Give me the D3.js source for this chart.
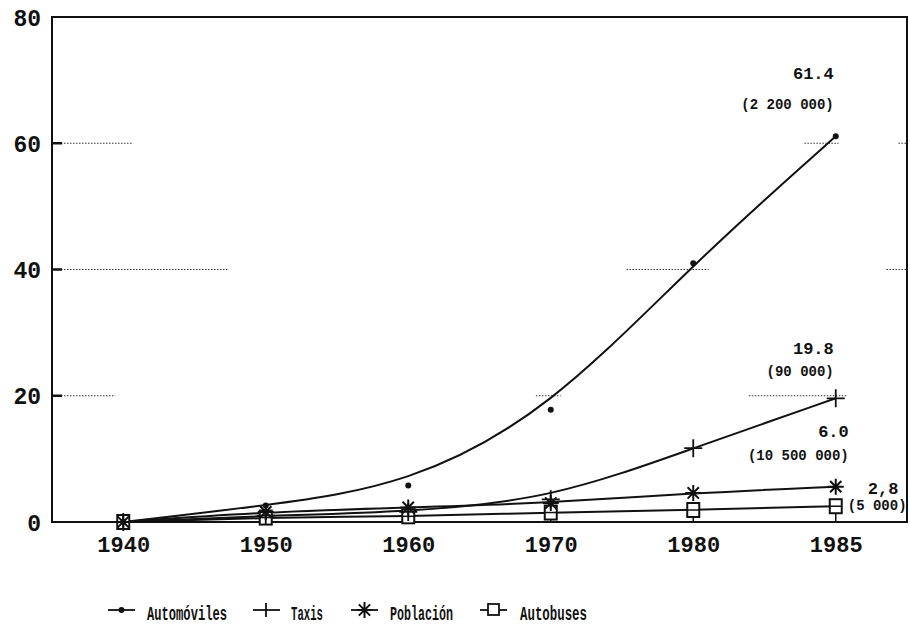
<!DOCTYPE html>
<html>
<head>
<meta charset="utf-8">
<script src="https://cdn.jsdelivr.net/npm/d3@7/dist/d3.min.js"></script>
<style>
  body { margin: 0; background: #fff; }
  svg { display: block; }
  .tick-label { font-family: "Liberation Mono", monospace; font-weight: bold; fill: #111; }
  .note { font-family: "Liberation Mono", monospace; font-weight: bold; fill: #111; }
  .legend text { font-family: "Liberation Mono", monospace; font-weight: bold; font-size: 20px; fill: #111; }
</style>
</head>
<body>
<div id="chart"></div>
<script>
// data
var years = ["1940", "1950", "1960", "1970", "1980", "1985"];
var automoviles = [0, 2.6, 5.8, 17.8, 41, 61.1];
var taxis = [0, 1.0, 1.6, 3.6, 11.7, 19.6];
var poblacion = [0, 1.6, 2.3, 3.0, 4.6, 5.6];
var autobuses = [0, 0.7, 0.9, 1.5, 1.9, 2.5];
var yTicks = [0, 20, 40, 60, 80];
var seriesNames = ["Automóviles", "Taxis", "Población", "Autobuses"];
var endLabels = [
  { top: "61.4", bottom: "(2 200 000)" },
  { top: "19.8", bottom: "(90 000)" },
  { top: "6.0", bottom: "(10 500 000)" },
  { top: "2,8", bottom: "(5 000)" }
];

var width = 910, height = 627;
var margins = { top: 17, right: 3, bottom: 105, left: 52 };
var chartWidth = width - margins.left - margins.right;
var chartHeight = height - margins.top - margins.bottom;

var svg = d3.select("#chart").append("svg")
  .attr("width", width)
  .attr("height", height);

var chartElement = svg.append("g")
  .attr("transform", `translate(${margins.left},${margins.top})`);

var xScale = d3.scalePoint()
  .domain(years)
  .range([0, chartWidth])
  .padding(0.5);

var yScale = d3.scaleLinear()
  .domain([0, 80])
  .range([chartHeight, 0]);

// broken dotted grid, as in the scan (fractions of the plot width)
var gridRuns = [
  { v: 60, runs: [[0, 0.095], [0.88, 0.92], [0.99, 1]] },
  { v: 40, runs: [[0, 0.206], [0.672, 0.768], [0.976, 1]] },
  { v: 20, runs: [[0, 0.074], [0.566, 0.595], [0.815, 0.93]] }
];
gridRuns.forEach(g => {
  g.runs.forEach(r => {
    chartElement.append("line")
      .attr("x1", r[0] * chartWidth)
      .attr("x2", r[1] * chartWidth)
      .attr("y1", yScale(g.v))
      .attr("y2", yScale(g.v))
      .attr("stroke", "#333")
      .attr("stroke-width", 1)
      .attr("stroke-dasharray", "1.5,1.5");
  });
});

// frame
chartElement.append("rect")
  .attr("x", 0).attr("y", 0)
  .attr("width", chartWidth).attr("height", chartHeight)
  .attr("fill", "none")
  .attr("stroke", "#111")
  .attr("stroke-width", 2);

// y axis
var yAxis = d3.axisLeft(yScale).tickValues(yTicks).tickSize(0).tickPadding(11);
var yAxisG = chartElement.append("g").attr("class", "y axis").call(yAxis);
yAxisG.select(".domain").remove();
yAxisG.selectAll("text")
  .attr("class", "tick-label")
  .style("font-size", "23px")
  .attr("dy", "0.35em");

chartElement.append("g")
  .selectAll("line")
  .data(yTicks.filter(d => d > 0 && d < 80))
  .enter()
  .append("line")
  .attr("x1", 0).attr("x2", 10)
  .attr("y1", d => yScale(d)).attr("y2", d => yScale(d))
  .attr("stroke", "#111")
  .attr("stroke-width", 2.5);

// x axis
var xAxis = d3.axisBottom(xScale).tickSize(0).tickPadding(14);
var xAxisG = chartElement.append("g")
  .attr("class", "x axis")
  .attr("transform", `translate(0,${chartHeight})`)
  .call(xAxis);
xAxisG.select(".domain").remove();
xAxisG.selectAll("text")
  .attr("class", "tick-label")
  .style("font-size", "22px")
  .attr("dy", "0.71em");

// markers
function drawMarker(g, kind, x, y) {
  if (kind == "dot") {
    g.append("circle").attr("cx", x).attr("cy", y).attr("r", 3).attr("fill", "#111");
  } else if (kind == "plus") {
    g.append("path")
      .attr("d", `M${x - 9},${y}H${x + 9}M${x},${y - 9}V${y + 9}`)
      .attr("stroke", "#111").attr("stroke-width", 1.8);
  } else if (kind == "star") {
    var s = 8, p = "";
    for (var a = 0; a < 180; a += 45) {
      var r = a * Math.PI / 180;
      p += `M${x - s * Math.cos(r)},${y - s * Math.sin(r)}L${x + s * Math.cos(r)},${y + s * Math.sin(r)}`;
    }
    g.append("path").attr("d", p).attr("stroke", "#111").attr("stroke-width", 2);
  } else if (kind == "square") {
    g.append("rect")
      .attr("x", x - 6).attr("y", y - 7)
      .attr("width", 12).attr("height", 14)
      .attr("fill", "#fff")
      .attr("stroke", "#111").attr("stroke-width", 2);
    g.append("line")
      .attr("x1", x - 6).attr("x2", x + 6)
      .attr("y1", y).attr("y2", y)
      .attr("stroke", "#111").attr("stroke-width", 1.5);
  }
}

var series = [
  { name: seriesNames[0], values: automoviles, marker: "dot" },
  { name: seriesNames[1], values: taxis, marker: "plus" },
  { name: seriesNames[2], values: poblacion, marker: "star" },
  { name: seriesNames[3], values: autobuses, marker: "square" }
];

var line = d3.line()
  .x((d, i) => xScale(years[i]))
  .y(d => yScale(d))
  .curve(d3.curveBasis);

// stems under the bus squares
chartElement.append("g")
  .attr("class", "stems")
  .selectAll("line")
  .data(autobuses.slice(1))
  .enter()
  .append("line")
  .attr("x1", (d, i) => xScale(years[i + 1]))
  .attr("x2", (d, i) => xScale(years[i + 1]))
  .attr("y1", d => yScale(d))
  .attr("y2", chartHeight)
  .attr("stroke", "#111")
  .attr("stroke-width", 1.5);

series.slice().reverse().forEach(s => {
  chartElement.append("path")
    .attr("class", "line")
    .attr("fill", "none")
    .attr("stroke", "#111")
    .attr("stroke-width", 2)
    .attr("d", line(s.values));
});

series.slice().reverse().forEach(s => {
  var g = chartElement.append("g").attr("class", "markers " + s.marker);
  s.values.forEach((v, i) => drawMarker(g, s.marker, xScale(years[i]), yScale(v)));
});

// end-of-line notes
var last = years[years.length - 1];
var noteSpots = [
  { dx: -2, y1: -57, y2: -27, anchor: "end" },
  { dx: -2, y1: -44, y2: -22, anchor: "end" },
  { dx: 13, y1: -50, y2: -27, anchor: "end" },
  { dx: 30, y1: -12, y2: 4, anchor: "start" }
];
series.forEach((s, i) => {
  var lab = endLabels[i], sp = noteSpots[i];
  var x = xScale(last) + sp.dx;
  var y = yScale(s.values[s.values.length - 1]);
  var topX = i == 3 ? x + 2 : x;
  var botX = i == 3 ? x - 18 : x;
  chartElement.append("text")
    .attr("class", "note")
    .attr("x", topX).attr("y", y + sp.y1)
    .attr("text-anchor", sp.anchor)
    .style("font-size", "17px")
    .text(lab.top);
  chartElement.append("text")
    .attr("class", "note")
    .attr("x", botX).attr("y", y + sp.y2)
    .attr("text-anchor", sp.anchor)
    .style("font-size", "14px")
    .text(lab.bottom);
});

// legend
var legendItems = [
  { x: 108, textX: 147, w: 80 },
  { x: 253, textX: 291, w: 32 },
  { x: 351, textX: 390, w: 63 },
  { x: 480, textX: 520, w: 67 }
];
var legend = svg.append("g").attr("class", "legend");
series.forEach((s, i) => {
  var it = legendItems[i], ly = 610;
  legend.append("line")
    .attr("x1", it.x).attr("x2", it.x + 27)
    .attr("y1", ly).attr("y2", ly)
    .attr("stroke", "#111").attr("stroke-width", 1.8);
  var g = legend.append("g");
  if (s.marker == "square") {
    g.append("rect").attr("x", it.x + 8).attr("y", ly - 6).attr("width", 11).attr("height", 11)
      .attr("fill", "#fff").attr("stroke", "#111").attr("stroke-width", 1.8);
  } else if (s.marker == "plus") {
    g.append("path")
      .attr("d", `M${it.x + 13},${ly - 7}V${ly + 7}`)
      .attr("stroke", "#111").attr("stroke-width", 1.8);
  } else {
    drawMarker(g, s.marker, it.x + 13.5, ly);
  }
  legend.append("text")
    .attr("x", it.textX).attr("y", 620)
    .attr("textLength", it.w)
    .attr("lengthAdjust", "spacingAndGlyphs")
    .text(s.name);
});
</script>
</body>
</html>
